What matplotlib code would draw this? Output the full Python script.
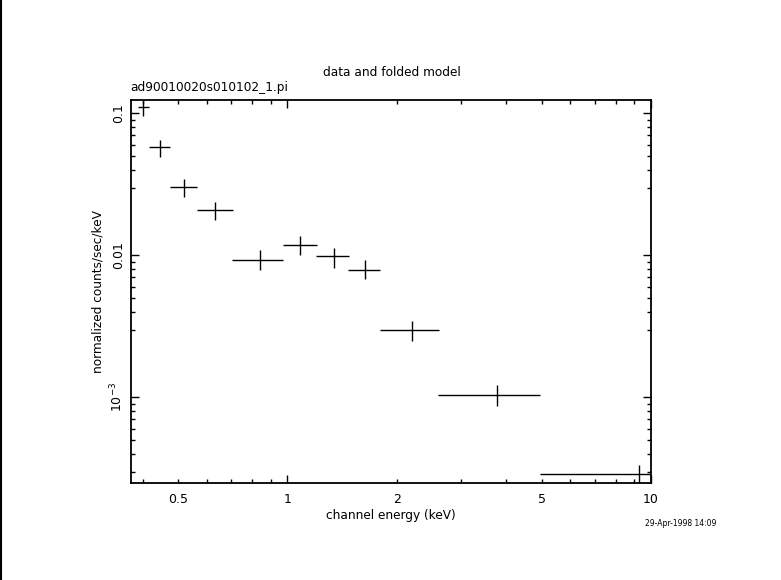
import numpy as np
import matplotlib
matplotlib.use('Agg')
import matplotlib.pyplot as plt
from matplotlib.lines import Line2D

# spectrum bins (keV, counts/sec/keV)
energy = [0.402, 0.446, 0.519, 0.634, 0.843, 1.086, 1.340, 1.631, 2.201, 3.782, 9.288]
e_lo = [0.389, 0.416, 0.475, 0.563, 0.705, 0.973, 1.200, 1.470, 1.793, 2.600, 4.960]
e_hi = [0.416, 0.475, 0.565, 0.709, 0.973, 1.207, 1.477, 1.801, 2.611, 4.966, 10.0]
rate = [0.1107, 0.0577, 0.0303, 0.02076, 0.00925, 0.01185, 0.00992, 0.00795, 0.002986, 0.001044, 0.000288]
r_lo = [0.0953, 0.0493, 0.0257, 0.01766, 0.00787, 0.01003, 0.00821, 0.00681, 0.002484, 0.000869, 0.000243]
r_hi = [0.1260, 0.0654, 0.0348, 0.02373, 0.01093, 0.0137, 0.01123, 0.00925, 0.00347, 0.001214, 0.000333]

x_minor = [0.4, 0.5, 0.6, 0.7, 0.8, 0.9, 2, 3, 4, 5, 6, 7, 8, 9]
x_minor_lab = ['', '0.5', '', '', '', '', '2', '', '', '5', '', '', '', '']
y_major = [1e-3, 1e-2, 0.1]
y_major_lab = ['$10^{-3}$', '0.01', '0.1']

plt.rcParams['font.family'] = 'DejaVu Sans'
fig = plt.figure(figsize=(7.81, 5.80), dpi=100)
ax = fig.add_axes([130.5 / 781, 1 - 483 / 580, (651 - 130.5) / 781, (483 - 99.5) / 580])

x = np.array(energy)
y = np.array(rate)
xerr = [x - np.array(e_lo), np.array(e_hi) - x]
yerr = [y - np.array(r_lo), np.array(r_hi) - y]
ax.errorbar(x, y, xerr=xerr, yerr=yerr, fmt='none', ecolor='black', elinewidth=1.0, capsize=0)

ax.set_xscale('log')
ax.set_yscale('log')

ax.set_xticks([1, 10])
ax.set_xticklabels(['1', '10'])
ax.set_xticks(x_minor, minor=True)
ax.set_xticklabels(x_minor_lab, minor=True)
ax.set_yticks(y_major)
ax.set_yticklabels(y_major_lab, rotation=90, va='center')
y_minor = [m * d for d in [1e-4, 1e-3, 1e-2] for m in range(3, 10)]
ax.set_yticks(y_minor, minor=True)
ax.set_yticklabels([], minor=True)

# limits after the ticks so set_ticks does not widen them
ax.set_xlim(0.3704, 10.0)
ax.set_ylim(2.49e-4, 0.1254)

ax.tick_params(which='both', direction='in', top=True, right=True, labelsize=9, width=1)
ax.tick_params(axis='x', which='both', pad=7)
ax.tick_params(axis='y', which='both', pad=4)
ax.tick_params(which='major', length=6)
ax.tick_params(which='minor', length=3)
for sp in ax.spines.values():
    sp.set_linewidth(1.3)

ax.set_xlabel('channel energy (keV)', fontsize=8.7, labelpad=2)
ax.set_ylabel('normalized counts/sec/keV', fontsize=8.7, labelpad=3)
fig.text(392 / 781, 1 - 72 / 580, 'data and folded model', ha='center', va='center', fontsize=8.7)
fig.text(130 / 781, 1 - 87 / 580, 'ad90010020s010102_1.pi', ha='left', va='center', fontsize=8.7)
fig.text(681 / 781, 1 - 524 / 580, '29-Apr-1998 14:09', ha='center', va='center', fontsize=5.5)

# left border line of the page
fig.add_artist(Line2D([0.0015, 0.0015], [0, 1], color='black', lw=1.5, transform=fig.transFigure))

fig.savefig('out.png', dpi=100)
